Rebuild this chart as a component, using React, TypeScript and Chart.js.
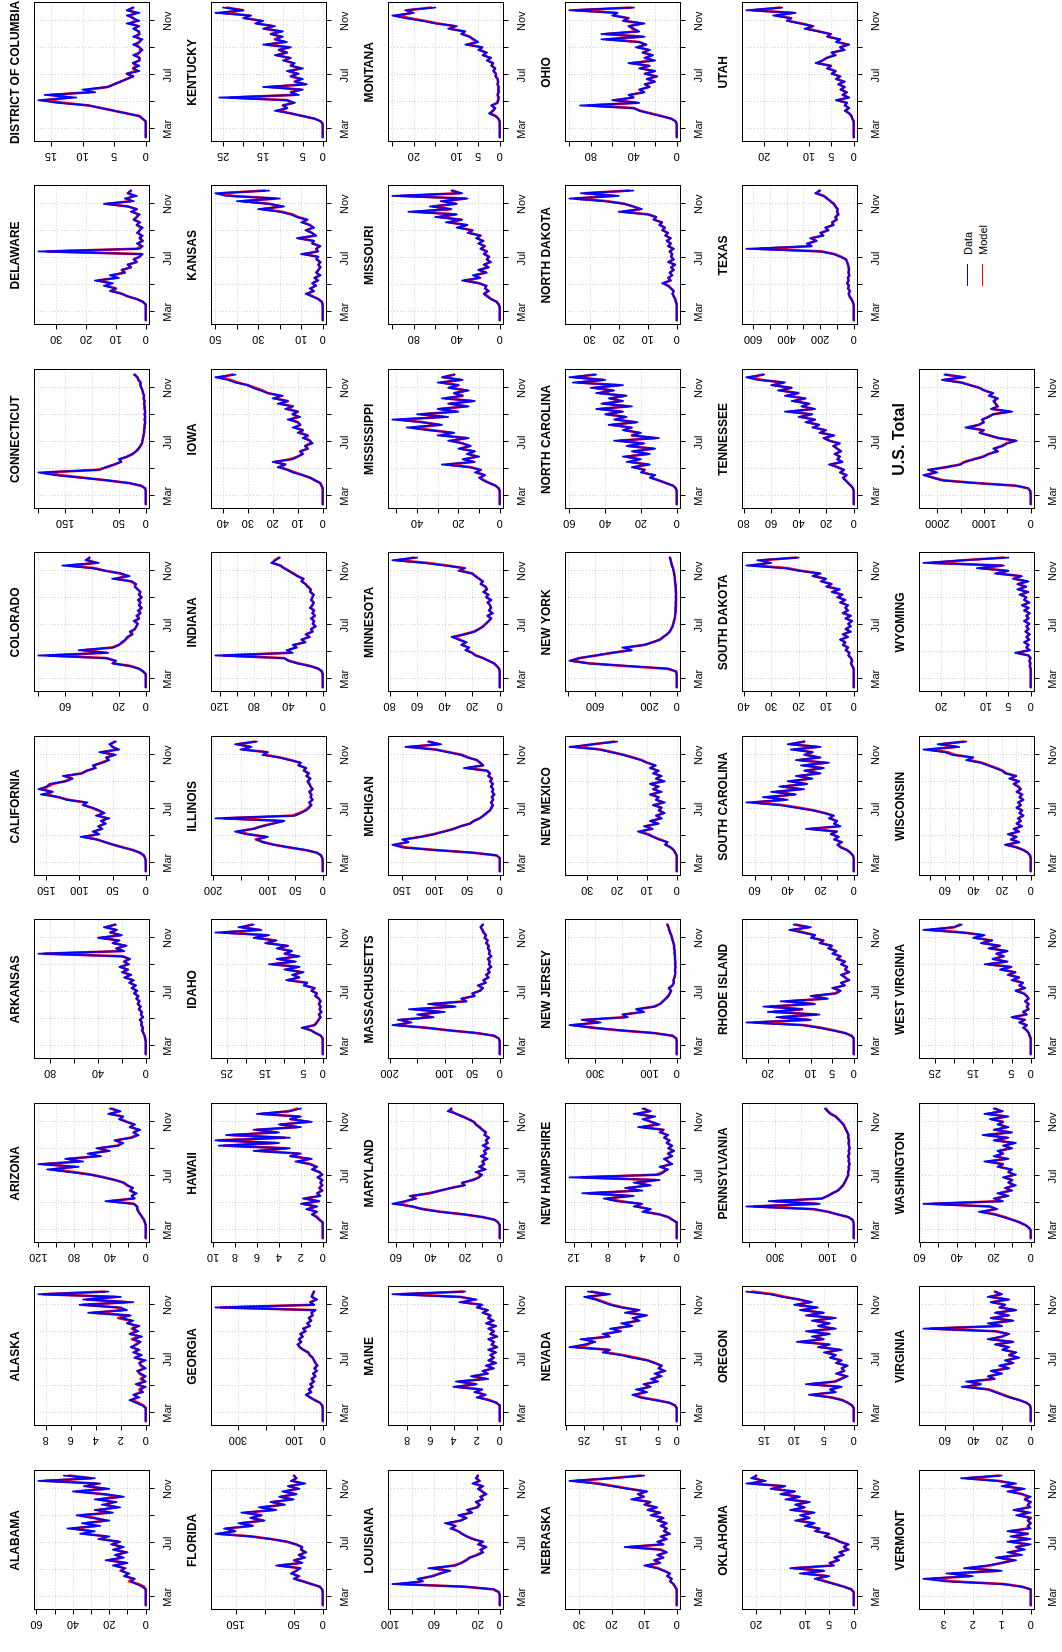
import React, { useEffect, useRef } from "react";
import { Chart, registerables } from "chart.js";

Chart.register(...registerables);

// Sample dates: day of year 2020 (Jan 1 = 0), Feb 11 .. Dec 1
const DAYS = [42,48,54,60,66,72,78,84,90,96,102,108,114,120,126,132,138,144,150,156,162,168,174,180,186,192,198,204,210,216,222,228,234,240,246,252,258,264,270,276,282,288,294,300,306,312,318,324,330,336];
const MONTH_TICKS = [60, 121, 182, 244, 305];
const MONTH_LABELS = ["Mar", "", "Jul", "", "Nov"];
const LEGEND_LABELS = ["Data", "Model"];
const SERIES_COLORS = ["#0000ff", "#ff0000"];

const AL_D = [0,0,0,0,0,0,0,2,5,8,6,12,9,14,11,18,10,22,12,17,10,18,12,19,14,26,20,36,28,43,25,35,20,30,38,18,28,14,24,16,28,12,22,40,20,34,25,59,28,45];
const AL_M = [0,0,0,0,0,0,0,1,4,9,7,11,10,13,12,17,11,20,13,16,11,17,13,18,15,24,22,33,30,40,27,33,22,28,35,20,26,16,22,18,26,14,24,38,22,32,27,55,30,42];
const AK_D = [0,0,0,0,0,0,0.3,0.8,1.3,0.5,1,0.2,0.4,0,0.8,0,0.3,0,0.4,0.7,0,0.3,0.5,0,0.9,0.3,1,0.5,1.2,0.7,0.4,1,0.3,1.3,0.6,1,0.5,1.5,1,2,1.2,4.6,1.5,2,5.3,1,5,2,8.6,3];
const AK_M = [0,0,0,0,0,0,0.2,0.6,1.1,0.7,0.9,0.4,0.5,0.2,0.7,0.1,0.4,0.1,0.5,0.6,0.1,0.4,0.5,0.2,0.8,0.4,0.9,0.6,1.1,0.8,0.5,1.1,0.5,1.2,0.8,1.1,0.7,1.4,1.2,2.2,1.4,4.2,1.8,2.3,5,1.5,4.7,2.4,8.2,3.3];
const AZ_D = [0,0,0,0,0,0,1,2,4,6,8,10,9,14,45,12,16,10,18,14,20,24,35,48,62,85,110,75,120,70,90,50,65,40,55,30,25,35,15,8,14,6,18,12,22,30,25,42,28,40];
const AZ_M = [0,0,0,0,0,0,1,2,4,6,8,9,10,13,40,14,15,12,17,15,21,25,34,46,60,80,104,80,114,75,86,55,62,43,52,32,27,33,17,10,13,8,17,13,21,28,26,40,30,38];
const AR_D = [0,0,0,0,0,0,0.5,1,2,3,2,4,3,5,2,4,3,6,4,7,5,8,6,10,7,12,8,14,10,18,12,20,15,22,14,18,13,20,90,18,25,16,28,22,40,20,30,24,35,25];
const AR_M = [0,0,0,0,0,0,0.5,1,2,3,2.5,3.5,3.5,4.5,2.5,4,3.5,5.5,4.5,6.5,5.5,7.5,6.5,9,8,11,9,13,11,17,13,19,15,21,15,18,14,19,85,19,24,17,27,23,38,21,29,25,33,26];
const CA_D = [0,0,0,0,0,1,3,8,20,35,50,60,75,98,70,80,65,72,60,68,55,75,62,70,80,95,88,120,130,158,140,162,150,145,120,110,125,95,90,75,80,65,55,60,45,70,40,50,55,45];
const CA_M = [0,0,0,0,0,1,3,9,19,34,48,62,73,92,72,78,67,70,62,66,58,72,64,72,82,93,92,116,132,150,142,155,148,140,122,112,120,97,88,77,78,67,57,58,48,66,43,50,53,47];
const CO_D = [0,0,0,0,0,0,2,5,12,25,22,30,80,28,50,24,20,18,15,14,10,12,8,7,6,9,5,7,4,6,3,5,4,6,3,5,4,6,8,7,10,25,12,18,30,40,62,35,45,42];
const CO_M = [0,0,0,0,0,0,2,5,11,24,23,29,72,30,46,25,20,17,15,13,10,11,8,7,6,8,5,6,4,5,3,5,4,5,3,5,4,6,8,8,11,22,14,19,30,38,57,37,43,42];
const CT_D = [0,0,0,0,0,0,1,8,30,70,120,170,200,85,75,60,45,50,35,25,18,14,10,7,6,5,4,3,3,2,2,1,2,1,2,1,2,2,3,2,4,3,5,6,8,10,9,14,15,22];
const CT_M = [0,0,0,0,0,0,1,9,32,72,115,160,185,90,72,58,47,48,34,24,18,13,10,7,6,5,4,3,3,2,2,1,2,1,2,1,2,2,3,2,4,3,5,6,8,10,10,13,16,20];
const DE_D = [0,0,0,0,0,0,0,1,3,6,8,12,10,14,11,17,9,12,7,8,5,6,3,4,2,1,36,2,1,3,1,2,1,3,2,1,3,2,4,3,2,5,3,6,14,4,7,3,6,5];
const DE_M = [0,0,0,0,0,0,0,1,3,6,8,11,10,13,12,16,10,11,7,8,5,6,3,4,2,1.5,33,3,1.5,2.5,1,2,1.5,2.5,2,1.5,3,2,4,3,2.5,4.5,3,6,13,5,6,4,6,5];
const DC_D = [0,0,0,0,0,0,0,0.5,1,3,5,7,9,14,17,11,16,8,10,6,5,4,3,2,3,1,2,1,2,1,1,2,1,0.5,1,2,1,0.5,2,1,1,2,1,3,1,2,3,1,3,2];
const DC_M = [0,0,0,0,0,0,0,0.5,1,3,5,7,9,13,16,12,15,9,9,6,5,4,3,2,3,1.5,2,1.5,2,1,1,1.5,1,0.8,1,1.5,1,0.8,1.5,1,1.2,1.8,1.2,2.5,1.5,2,2.5,1.5,2.8,2];
const FL_D = [0,0,0,0,0,0,1,5,20,35,50,40,55,45,38,80,35,50,30,42,28,38,35,45,60,90,125,185,150,170,120,145,100,125,105,140,80,110,65,90,50,75,45,70,40,60,30,55,45,50];
const FL_M = [0,0,0,0,0,0,1,5,19,33,48,42,53,46,40,75,37,48,32,40,30,37,36,47,62,88,122,178,152,165,122,140,103,122,107,132,84,105,68,86,53,72,47,66,43,58,34,52,46,49];
const GA_D = [0,0,0,0,0,0,2,10,30,45,60,40,50,35,45,30,40,25,35,20,30,18,25,30,35,45,50,70,80,90,75,85,70,80,60,70,45,55,40,50,35,40,25,380,30,45,20,40,35,30];
const GA_M = [0,0,0,0,0,0,2,10,28,44,57,42,48,37,43,32,38,27,33,22,28,20,26,31,36,46,52,68,82,86,77,84,72,78,62,68,47,54,42,48,36,39,28,360,33,43,23,38,36,31];
const HI_D = [0,0,0,0,0,0,0,0.3,0.6,1,0.5,1.5,0.5,2,0.3,1.8,0.2,0.5,0,0.3,0,0.2,0,0.5,0,0.3,1,0.5,1.2,2.5,1,3,2,6.3,3,9.5,4,9.8,3,8.8,4,6.3,2,4,1,3,2,6,3,2];
const HI_M = [0,0,0,0,0,0,0,0.3,0.5,0.9,0.6,1.3,0.6,1.8,0.4,1.6,0.3,0.5,0.1,0.3,0.1,0.2,0.1,0.4,0.1,0.3,0.9,0.6,1.1,2.2,1.2,2.8,2.2,5.8,3.3,9,4.3,9.5,3.5,8.4,4.2,6,2.3,3.8,1.3,2.9,2.2,5.6,3.1,2.3];
const ID_D = [0,0,0,0,0,0,0,0.5,2,3,5.5,2,1.5,1,0.5,1,0.3,0.8,0.5,1,0.5,1,2,1.5,3,2,5,4,9.5,6,8,5,10,6,14,7,12,6,10,8,12,9,15,12,18,14,28,16,22,18];
const ID_M = [0,0,0,0,0,0,0,0.5,1.8,3,5,2.2,1.6,1.1,0.6,1,0.4,0.8,0.6,1,0.6,1,1.8,1.6,2.8,2.3,4.6,4.2,9,6.3,7.6,5.4,9.4,6.5,13,7.5,11.5,6.6,9.8,8.2,11.6,9.5,14.5,12.4,17.5,14.6,26,16.5,21,18.5];
const IL_D = [0,0,0,0,0,1,3,10,30,60,90,110,120,100,140,160,125,110,90,70,196,50,40,30,25,20,25,18,22,20,25,18,22,25,28,22,30,25,35,30,45,40,60,80,110,100,150,130,160,120];
const IL_M = [0,0,0,0,0,1,3,11,32,62,88,108,122,104,135,155,128,112,92,72,180,55,42,32,26,22,24,19,22,21,24,19,22,24,27,23,29,26,34,31,43,41,58,78,106,102,145,132,155,124];
const IN_D = [0,0,0,0,0,0,1,5,15,30,40,45,125,35,42,30,35,20,25,15,20,12,14,8,12,10,14,9,12,10,15,12,10,14,12,10,15,14,18,20,25,22,30,35,40,45,50,60,55,50];
const IN_M = [0,0,0,0,0,0,1,5,14,28,39,45,115,38,40,32,33,21,24,16,19,12,13,9,11,10,13,9,12,10,14,12,11,13,12,11,14,14,17,20,24,23,29,34,39,45,49,58,56,51];
const IA_D = [0,0,0,0,0,0,0,0.5,1,3,5,8,12,14,18,15,20,12,10,8,9,6,7,4,5,8,6,10,8,12,9,10,14,9,12,10,15,12,18,14,20,16,22,25,28,30,35,38,43,35];
const IA_M = [0,0,0,0,0,0,0,0.5,1,3,5,8,11,14,17,15,19,13,10,8,9,6,7,5,5,7,6,9,8,11,9,10,13,10,12,10,14,12,17,14,19,17,22,24,27,30,34,37,41,36];
const KS_D = [0,0,0,0,0,0,0,0.5,2,5,8,4,6,3,5,2,4,1,3,2,1,2,1,3,2,10,2,3,1,5,4,12,3,5,8,4,6,10,7,12,15,20,30,18,25,40,20,45,50,25];
const KS_M = [0,0,0,0,0,0,0,0.5,2,4.5,7,4.5,5.5,3.5,4.5,2.5,3.5,1.5,3,2,1.2,2,1.2,2.8,2.5,8.5,2.5,3,1.5,4.5,4.5,11,3.5,5,7.5,4.5,6,9,7.5,11.5,14,19,28,19,25,37,22,42,47,27];
const KY_D = [0,0,0,0,0,0,0.5,2,5,8,12,9,10,7,9,26,6,8,5,15,4,7,5,8,6,9,5,8,7,10,8,12,9,11,8,15,9,12,10,13,10,15,12,17,15,20,18,27,20,25];
const KY_M = [0,0,0,0,0,0,0.5,2,5,8,11,9,10,7.5,9,23,7,8,5.5,13,4.5,7,5.5,8,6.5,8.5,5.5,8,7.5,9.5,8.5,11.5,9,11,8.5,14,9.5,12,10.5,13,10.5,14.5,12.5,16.5,15.5,19.5,18.5,25,20,24];
const LA_D = [0,0,0,0,0,1,5,30,98,70,75,60,55,45,65,40,35,30,28,20,15,18,12,20,15,25,30,35,38,45,40,50,35,30,38,25,30,20,18,22,15,18,12,16,20,15,25,18,22,20];
const LA_M = [0,0,0,0,0,1,6,33,90,72,72,62,54,47,60,42,35,31,27,21,16,17,13,19,16,24,30,34,38,43,41,47,36,31,36,26,29,21,19,21,16,17,13,16,19,16,23,19,21,20];
const ME_D = [0,0,0,0,0,0,0,0.3,1,2,1.2,2.2,1.5,4,2,3.8,1,2.5,1,1.5,0.5,1.2,0.3,1,0.5,0.8,0.3,1,0.2,0.7,0.5,1,0.2,0.8,0.5,1,0.3,1.2,0.5,1,0.8,1.5,1,2,1.5,3.5,2,3.5,9.3,3];
const ME_M = [0,0,0,0,0,0,0,0.3,0.9,1.8,1.3,2,1.6,3.7,2.1,3.5,1.2,2.3,1.1,1.4,0.6,1.1,0.4,0.9,0.5,0.8,0.4,0.9,0.3,0.7,0.5,0.9,0.3,0.8,0.5,0.9,0.4,1.1,0.6,1,0.8,1.4,1.1,1.9,1.6,3.2,2.2,3.4,8.6,3.2];
const MD_D = [0,0,0,0,0,0,1,3,10,20,35,45,50,62,55,48,52,40,35,28,20,22,15,12,10,14,8,12,9,10,7,11,8,9,6,10,7,8,6,9,8,10,12,14,15,18,22,25,30,28];
const MD_M = [0,0,0,0,0,0,1,3,10,21,34,44,51,58,54,49,50,41,34,28,21,21,16,12,11,13,9,11,9,10,8,10,8,9,7,9,7,8,6.5,8.5,8,10,11.5,13.5,15,18,21,25,28,28];
const MA_D = [0,0,0,0,0,0,2,10,40,90,130,195,160,185,120,150,100,165,80,130,60,70,45,50,35,30,40,25,30,20,25,18,22,15,20,18,22,15,20,18,22,20,25,22,28,25,30,32,35,30];
const MA_M = [0,0,0,0,0,0,2,11,42,92,135,185,165,178,125,145,108,155,84,122,62,68,47,49,36,31,38,26,29,21,24,19,21,16,19,18,21,16,19,18,21,20,24,22,27,25,29,31,34,31];
const MI_D = [0,0,0,0,0,0,5,40,100,150,165,140,150,120,100,85,70,60,45,40,30,25,20,15,12,10,14,10,12,8,12,10,14,10,15,12,18,15,20,55,25,30,35,50,60,80,100,145,90,110];
const MI_M = [0,0,0,0,0,0,5,42,98,145,160,142,146,122,102,86,71,60,46,40,31,25,20,15,13,11,13,10,12,9,11,10,13,11,14,12,17,15,19,50,26,30,35,48,58,78,98,138,94,108];
const MN_D = [0,0,0,0,0,0,0,0.5,2,4,8,12,18,20,25,22,28,24,30,35,25,18,15,12,10,8,6,9,5,8,6,7,9,6,10,8,12,9,10,14,12,15,18,20,30,25,40,55,78,60];
const MN_M = [0,0,0,0,0,0,0,0.5,2,4,8,12,17,20,24,23,27,25,29,33,26,19,15,12,10,8,6.5,8.5,5.5,7.5,6.5,7,8.5,6.5,9.5,8.5,11.5,9.5,10.5,13.5,12.5,15,17.5,20,28,26,38,53,74,62];
const MS_D = [0,0,0,0,0,0,0.5,2,5,8,10,7,12,9,15,28,12,18,10,16,12,20,14,18,25,15,30,22,35,45,28,38,52,25,40,20,30,15,25,12,28,18,22,15,25,20,30,18,28,22];
const MS_M = [0,0,0,0,0,0,0.5,2,5,7.5,9.5,7.5,11,9.5,14,25,13,17,11,15,12.5,19,14.5,18,23,16,28,23,33,42,29,37,48,27,38,21,29,16,24,13,26,18,22,16,24,20,28,19,27,22];
const MO_D = [0,0,0,0,0,0,1,3,8,12,15,10,14,12,20,35,18,25,12,20,10,15,8,12,10,15,12,18,14,20,15,22,18,30,25,40,30,50,35,60,40,85,45,65,40,55,30,100,35,45];
const MO_M = [0,0,0,0,0,0,1,3,8,11,14,11,13,13,19,32,19,23,13,19,11,14,9,12,10,14,12,17,14,19,16,21,18,28,26,38,31,47,36,56,41,78,46,62,41,52,32,92,37,44];
const MT_D = [0,0,0,0,0,0,0,0.3,1,2.5,1.5,1,2,0.5,0.3,0.2,0.5,0.2,0.3,0.2,0.5,0.3,0.5,1,0.8,1.5,1,2,1.5,3,2,4,3,5,4,8,5,6,7,9,8,12,10,15,18,22,25,20,22,15];
const MT_M = [0,0,0,0,0,0,0,0.3,0.9,2.2,1.6,1.1,1.8,0.6,0.4,0.3,0.5,0.3,0.3,0.3,0.5,0.4,0.5,0.9,0.9,1.4,1.1,1.8,1.6,2.8,2.2,3.8,3.1,4.7,4.2,7.4,5.3,6.2,7,8.6,8.3,11.5,10.5,14.5,17.5,21,23.5,20.5,21.5,16];
const NE_D = [0,0,0,0,0,0,0,0.5,1,2,1.5,3,2,4,6,10,5,7,4,6,3,5,16,4,6,3,5,2,4,3,5,3,6,4,8,5,9,6,10,8,14,10,12,9,15,20,25,33,20,10];
const NE_M = [0,0,0,0,0,0,0,0.5,1,2,1.6,2.8,2.2,3.8,5.7,9.2,5.3,6.6,4.3,5.6,3.3,4.8,14.5,4.4,5.6,3.3,4.6,2.4,3.8,3.2,4.6,3.3,5.6,4.3,7.5,5.3,8.6,6.3,9.6,8.3,13,10.2,11.6,9.5,14.5,19,24,31,20.5,11];
const NV_D = [0,0,0,0,0,0,0.5,2,6,10,12,8,11,7,9,5,7,4,6,3,5,4,6,8,12,15,20,18,29,25,22,26,18,20,15,18,12,15,10,12,8,14,10,15,18,20,22,25,18,24];
const NV_M = [0,0,0,0,0,0,0.5,2,5.5,9.5,11,8.5,10,7.5,8.5,5.5,6.5,4.5,5.5,3.5,4.8,4.2,5.8,7.8,11,14.5,19,18.5,27,24,22.5,24.5,18.5,19,15.5,17,12.5,14,10.5,11.5,8.5,13,10.5,14.5,17.5,19.5,21.5,24,19,23];
const NH_D = [0,0,0,0,0,0,0,0.5,1,2,4,3,5,4,7,8.5,5,11,4,6,3,5,2,12.5,2,1.5,1,2,0.5,1,1.5,0.5,1,0.3,1,0.5,1.2,0.8,1.5,1,2,1.5,4.5,2,3,4,2.5,5,3,4];
const NH_M = [0,0,0,0,0,0,0,0.5,1,2,3.7,3.2,4.6,4.2,6.6,8,5.4,10.3,4.5,5.6,3.3,4.6,2.4,11,2.4,1.6,1.2,1.8,0.7,1,1.3,0.6,1,0.4,0.9,0.6,1.1,0.9,1.4,1.1,1.8,1.6,4,2.2,3,3.7,2.8,4.6,3.2,3.8];
const NJ_D = [0,0,0,0,0,0,2,15,80,200,300,395,280,350,180,200,120,150,80,60,50,40,30,25,20,30,15,10,12,8,6,5,7,4,6,5,7,6,8,7,10,9,12,15,18,20,25,28,30,35];
const NJ_M = [0,0,0,0,0,0,2,16,85,210,310,380,290,335,190,195,125,145,84,62,51,41,31,26,21,28,16,11,12,8.5,6.5,5.5,6.5,4.5,6,5.5,6.5,6.5,8,7.5,9.5,9.5,12,15,17.5,20,24,27.5,30,34];
const NM_D = [0,0,0,0,0,0,0,0.5,1,2,4,3,6,8,10,13,8,11,6,9,5,7,4,6,5,8,4,7,6,9,5,8,6,9,4,7,5,8,6,9,7,10,12,15,18,22,26,36,28,20];
const NM_M = [0,0,0,0,0,0,0,0.5,1,2,3.6,3.3,5.6,7.8,9.6,12.3,8.4,10.4,6.4,8.5,5.3,6.7,4.4,6,5.2,7.6,4.5,6.8,6.2,8.6,5.5,7.7,6.3,8.6,4.6,6.8,5.4,7.6,6.3,8.7,7.3,9.8,11.7,14.6,17.8,21.5,25.5,33.5,28,21];
const NY_D = [0,0,0,0,0,0,5,60,350,650,790,720,600,480,330,400,230,180,120,100,70,50,40,30,25,20,15,12,10,8,8,6,7,5,6,5,6,7,8,10,12,14,16,20,22,28,35,40,45,50];
const NY_M = [0,0,0,0,0,0,6,70,370,640,770,715,590,475,340,370,240,175,125,98,72,52,41,31,25,20,15,12,10,8,8,6,7,5,6,5,6,7,8,10,12,14,16,19,23,28,34,40,44,50];
const NC_D = [0,0,0,0,0,0,0.5,2,6,10,15,12,20,18,25,15,28,20,30,15,25,12,28,18,35,10,25,20,30,25,38,22,35,28,40,30,45,25,42,30,38,28,45,35,48,30,58,40,60,45];
const NC_M = [0,0,0,0,0,0,0.5,2,6,10,14,13,19,18,24,16,26,21,28,16,24,13,27,19,32,12,25,21,29,26,36,23,34,29,39,31,43,27,41,31,37,29,43,36,46,32,55,41,57,46];
const ND_D = [0,0,0,0,0,0,0,0.3,0.5,1,1.5,1,2,3,5,2,3,1.5,2.5,1,2,0.5,3,1,2,1.5,2.5,1,3,2,3.5,2,4,3,5,4,6,5,8,7,10,20,12,15,18,25,37,20,33,15];
const ND_M = [0,0,0,0,0,0,0,0.3,0.5,1,1.4,1.1,1.9,2.8,4.6,2.2,2.8,1.6,2.3,1.1,1.9,0.7,2.7,1.2,1.9,1.6,2.3,1.2,2.8,2.1,3.3,2.2,3.8,3.1,4.8,4.1,5.8,5.2,7.7,7.2,9.8,18.5,12.5,15,18,24,35,21.5,31.5,16.5];
const OH_D = [0,0,0,0,0,0,1,5,15,25,35,40,90,35,60,40,45,30,35,25,30,20,28,18,30,20,35,25,45,20,30,22,32,25,38,28,35,70,30,70,35,40,45,30,50,45,60,55,100,40];
const OH_M = [0,0,0,0,0,0,1,5,14,24,34,40,82,37,57,41,43,31,34,26,29,21,27,19,29,21,33,26,42,22,29,23,31,26,36,29,35,65,32,66,36,41,44,32,49,45,58,56,94,43];
const OK_D = [0,0,0,0,0,0,0.5,2,4,6,8,5,11,6,13,4,5,3,4,2,3,1,2,1,3,4,6,5,8,7,10,8,12,9,11,8,13,10,12,9,14,11,15,12,17,14,22,18,21,20];
const OK_M = [0,0,0,0,0,0,0.5,2,3.8,5.7,7.5,5.4,10.2,6.3,12.2,4.5,4.8,3.2,3.8,2.2,2.8,1.3,2,1.3,2.8,3.9,5.7,5.2,7.6,7.1,9.5,8.3,11.4,9.2,10.7,8.4,12.3,10.2,11.7,9.4,13.3,11.3,14.6,12.3,16.5,14.3,20.8,18.5,20.3,20];
const OR_D = [0,0,0,0,0,0,0.3,1,2,4,7.5,3,4,2,8,3,2,1,3,1.5,2,1,3,2,4,3,5,2,6,4,9.5,5,7,4,8,3,6,4,7,3,8,5,9,6,10,7,9,12,14,18];
const OR_M = [0,0,0,0,0,0,0.3,1,1.9,3.7,6.8,3.3,3.8,2.3,7.2,3.2,2.2,1.3,2.7,1.7,2,1.2,2.8,2.2,3.7,3.1,4.6,2.4,5.5,4.2,8.8,5.2,6.6,4.3,7.4,3.4,5.8,4.2,6.6,3.5,7.6,5.2,8.6,6.3,9.6,7.4,9.2,11.5,13.5,17];
const PA_D = [0,0,0,0,0,0,1,5,20,60,100,150,410,130,325,120,100,80,60,50,40,35,30,25,20,22,18,20,15,20,18,22,16,20,15,18,20,17,22,20,25,30,35,40,50,60,70,90,100,110];
const PA_M = [0,0,0,0,0,0,1,5,21,62,98,155,380,140,300,122,98,82,61,51,41,35,30,25,21,22,18,19,16,19,18,21,17,19,16,18,19,18,21,20,24,29,34,39,48,58,68,86,98,106];
const RI_D = [0,0,0,0,0,0,0,0.5,2,5,8,12,25,10,18,8,20,12,21,9,17,6,10,4,3,5,2,3,1,2,3,1,2,1.5,3,2,4,3,5,4,6,5,8,7,10,9,12,15,10,14];
const RI_M = [0,0,0,0,0,0,0,0.5,2,4.6,7.6,11.5,23,10.5,17,8.6,18.5,12,19.5,9.4,15.5,6.5,9.5,4.3,3.2,4.6,2.2,2.8,1.2,2,2.7,1.2,2,1.6,2.8,2.1,3.7,3.1,4.7,4.1,5.7,5.2,7.6,7.1,9.6,9.1,11.6,14,10.5,13.5];
const SC_D = [0,0,0,0,0,0,0.5,2,4,8,10,7,12,9,14,10,29,8,12,10,15,12,18,25,35,45,65,40,55,35,50,30,45,28,40,25,35,20,30,18,32,15,35,20,30,25,38,20,40,30];
const SC_M = [0,0,0,0,0,0,0.5,2,4,7.5,9.5,7.5,11.5,9.5,13.5,10.5,26,9,11.5,10.5,14.5,12.5,17.5,24,33,43,60,42,52,36,47,32,43,29,38,26,33,21,29,19,30,17,33,21,29,25,36,22,38,30];
const SD_D = [0,0,0,0,0,0,0,0,0.5,1,0.5,1,2,1.5,3,2,4,3,5,2,4,1,3,1,2,0.5,3,1,4,2,3,2,5,3,6,4,8,5,10,8,12,10,15,12,20,25,39,30,35,20];
const SD_M = [0,0,0,0,0,0,0,0,0.5,1,0.6,1,1.8,1.6,2.8,2.1,3.7,3.1,4.6,2.3,3.8,1.3,2.8,1.2,1.9,0.7,2.8,1.2,3.7,2.2,3,2.3,4.6,3.2,5.6,4.3,7.6,5.4,9.5,8.2,11.5,10.3,14.5,12.5,19,24,36,31,33,21];
const TN_D = [0,0,0,0,0,0,0.5,2,4,6,8,5,10,7,12,18,8,12,10,14,9,12,15,10,18,22,14,25,20,30,25,35,28,40,30,50,28,38,32,45,35,50,40,55,45,60,50,70,78,65];
const TN_M = [0,0,0,0,0,0,0.5,2,4,5.7,7.6,5.4,9.5,7.3,11.5,16.5,8.6,11.6,10.2,13.3,9.4,12,14.3,10.8,17.5,21,15,23.5,21,28.5,25.5,33.5,28.5,38,31,46,29.5,37,33,43,35.5,48,40.5,53,45.5,58,51,67,74,66];
const TX_D = [0,0,0,0,0,0,1,5,15,25,30,22,35,28,40,30,35,25,32,28,30,35,40,45,80,120,200,640,250,280,220,260,180,200,150,170,120,130,100,110,90,100,95,110,120,140,160,180,230,200];
const TX_M = [0,0,0,0,0,0,1,5,14,24,29,23,33,29,38,31,34,26,31,29,30,34,39,46,75,115,190,560,255,270,225,250,185,195,155,165,122,128,102,108,92,98,96,108,118,138,158,178,220,205];
const UT_D = [0,0,0,0,0,0,0,0.3,0.5,1,2,1,2,1.5,4,1,2.5,1.5,3,2,3.5,2,4,3,5,4,6,5,8.5,7,6,4,5,2,3,1,4,3,6,5,8,11,9,12,15,14,18,13,24,16];
const UT_M = [0,0,0,0,0,0,0,0.3,0.5,1,1.8,1.1,1.9,1.6,3.6,1.2,2.4,1.6,2.8,2.1,3.3,2.2,3.8,3.1,4.7,4.1,5.7,5.2,8,7,6,4.3,4.7,2.3,3,1.3,3.7,3.2,5.7,5.3,7.7,10.3,9.3,11.7,14.5,14,17.3,13.6,22.5,16.5];
const VT_D = [0,0,0,0,0,0,0,0.3,1,2.9,3.7,2,2.9,1,2.3,1.5,1,0.5,1.2,0.3,0.8,0.2,0.5,0,0.8,0,0.7,0.1,0.8,0,0.1,0,0.1,0,0.5,0,0.6,0,0.1,0,0.2,0,0.3,0.8,0.2,1,0.5,1.2,2.4,1];
const VT_M = [0,0,0,0,0,0,0,0.3,0.9,2.7,3.4,2.1,2.7,1.1,2.1,1.4,1,0.6,1.1,0.4,0.7,0.3,0.5,0.1,0.7,0.1,0.6,0.1,0.7,0.1,0.1,0,0.1,0,0.4,0.1,0.5,0.1,0.1,0,0.2,0.1,0.3,0.7,0.3,0.9,0.6,1.1,2.2,1.1];
const VA_D = [0,0,0,0,0,0,0.5,3,8,15,20,25,30,48,35,45,25,30,20,28,15,22,12,18,8,15,10,20,15,25,12,30,20,15,25,75,20,30,12,28,15,25,10,22,18,28,15,30,20,25];
const VA_M = [0,0,0,0,0,0,0.5,3,8,14,19,24,29,44,35,42,26,29,21,27,16,21,13,17,9,15,11,19,16,24,13,28,20,16,24,70,21,28,13,27,16,24,11,21,18,27,16,28,21,25];
const WA_D = [0,0,0,0,1,3,6,10,15,20,28,18,22,58,15,20,12,18,10,14,8,12,10,15,8,12,10,18,15,25,12,20,15,18,10,15,8,20,12,26,10,20,12,18,15,22,12,25,15,20];
const WA_M = [0,0,0,0,1,3,6,10,14,19,26,19,22,53,16,19,13,17,11,13,9,12,10,14,9,12,11,17,15,23,13,19,15,17,11,14,9,19,13,24,11,19,13,17,15,21,13,23,16,19];
const WV_D = [0,0,0,0,0,0,0,0.3,0.5,1,2,1,3,1.5,5,1,2,0.5,1,0.5,1.5,0.5,1,2,4,1.5,3,2,5,3,6,4,8,5,12,6,10,7,9,6,11,8,13,10,15,12,18,28,20,18];
const WV_M = [0,0,0,0,0,0,0,0.3,0.5,1,1.8,1.1,2.8,1.6,4.6,1.2,1.9,0.6,1,0.6,1.4,0.6,1,1.8,3.7,1.6,2.9,2.1,4.6,3.1,5.7,4.1,7.6,5.2,11,6.4,9.6,7.1,8.8,6.3,10.5,8.2,12.5,10.3,14.5,12.4,17.5,26,20,18.5];
const WI_D = [0,0,0,0,0,0,0.5,2,5,10,18,8,14,10,16,8,12,6,10,7,9,5,8,6,10,7,9,5,8,6,10,7,9,12,8,15,10,18,20,25,30,35,45,40,55,60,75,50,65,45];
const WI_M = [0,0,0,0,0,0,0.5,2,5,9.5,16.5,8.5,13.5,10,15,8.5,11.5,6.5,9.5,7,8.5,5.5,7.5,6,9.5,7,8.5,5.5,7.5,6,9.5,7,8.5,11.5,8.5,14,10.5,17,19.5,24,29,34,43,41,53,58,71,52,63,47];
const WY_D = [0,0,0,0,0,0,0,0,0.2,0,0.3,0,0.5,3.5,0.2,1,0.5,1.5,0.3,1,0.2,1.2,0.5,1,0.3,1.5,0.5,1,0.2,1.5,0.5,2,0.3,1.5,1,2.5,0.5,3,1,3,0.5,4,2,8,5,12,6,24,15,5];
const WY_M = [0,0,0,0,0,0,0,0,0.2,0.1,0.3,0.1,0.5,3,0.3,0.9,0.5,1.3,0.4,0.9,0.3,1.1,0.5,0.9,0.4,1.3,0.5,0.9,0.3,1.3,0.5,1.8,0.4,1.4,1,2.2,0.7,2.7,1.1,2.8,0.8,3.6,2.2,7.5,5.2,11,6.5,22,15,6];
const US_D = [0,0,0,0,1,10,50,300,1200,1900,2100,2300,2000,2200,1800,1500,1400,1200,1000,900,700,800,600,500,300,700,900,1100,1000,1400,1100,1000,1050,900,800,400,850,700,750,800,700,900,800,1000,1100,1300,1500,1900,1400,1850];
const US_M = [0,0,0,0,1,12,60,320,1150,1850,2080,2250,2050,2150,1820,1520,1420,1230,1020,900,720,780,620,520,330,680,880,1080,1020,1350,1120,1010,1030,910,810,450,830,710,750,790,720,880,820,990,1100,1290,1480,1850,1450,1820];

interface PanelDef {
  name: string;
  data: number[];
  model: number[];
  ticks: number[];
  labels: number[];
}

const PANELS: PanelDef[] = [
  { name: "ALABAMA", data: AL_D, model: AL_M, ticks: [0,10,20,30,40,50,60], labels: [0,20,40,60] },
  { name: "ALASKA", data: AK_D, model: AK_M, ticks: [0,2,4,6,8], labels: [0,2,4,6,8] },
  { name: "ARIZONA", data: AZ_D, model: AZ_M, ticks: [0,20,40,60,80,100,120], labels: [0,40,80,120] },
  { name: "ARKANSAS", data: AR_D, model: AR_M, ticks: [0,20,40,60,80], labels: [0,40,80] },
  { name: "CALIFORNIA", data: CA_D, model: CA_M, ticks: [0,50,100,150], labels: [0,50,100,150] },
  { name: "COLORADO", data: CO_D, model: CO_M, ticks: [0,20,40,60,80], labels: [0,20,60] },
  { name: "CONNECTICUT", data: CT_D, model: CT_M, ticks: [0,50,100,150,200], labels: [0,50,150] },
  { name: "DELAWARE", data: DE_D, model: DE_M, ticks: [0,10,20,30], labels: [0,10,20,30] },
  { name: "DISTRICT OF COLUMBIA", data: DC_D, model: DC_M, ticks: [0,5,10,15], labels: [0,5,10,15] },
  { name: "FLORIDA", data: FL_D, model: FL_M, ticks: [0,50,100,150], labels: [0,50,150] },
  { name: "GEORGIA", data: GA_D, model: GA_M, ticks: [0,100,200,300], labels: [0,100,300] },
  { name: "HAWAII", data: HI_D, model: HI_M, ticks: [0,2,4,6,8,10], labels: [0,2,4,6,8,10] },
  { name: "IDAHO", data: ID_D, model: ID_M, ticks: [0,5,10,15,20,25], labels: [0,5,15,25] },
  { name: "ILLINOIS", data: IL_D, model: IL_M, ticks: [0,50,100,150,200], labels: [0,50,100,200] },
  { name: "INDIANA", data: IN_D, model: IN_M, ticks: [0,20,40,60,80,100,120], labels: [0,40,80,120] },
  { name: "IOWA", data: IA_D, model: IA_M, ticks: [0,10,20,30,40], labels: [0,10,20,30,40] },
  { name: "KANSAS", data: KS_D, model: KS_M, ticks: [0,10,20,30,40,50], labels: [0,10,30,50] },
  { name: "KENTUCKY", data: KY_D, model: KY_M, ticks: [0,5,10,15,20,25], labels: [0,5,15,25] },
  { name: "LOUISIANA", data: LA_D, model: LA_M, ticks: [0,20,40,60,80,100], labels: [0,20,60,100] },
  { name: "MAINE", data: ME_D, model: ME_M, ticks: [0,2,4,6,8], labels: [0,2,4,6,8] },
  { name: "MARYLAND", data: MD_D, model: MD_M, ticks: [0,10,20,30,40,50,60], labels: [0,20,40,60] },
  { name: "MASSACHUSETTS", data: MA_D, model: MA_M, ticks: [0,50,100,150,200], labels: [0,50,100,200] },
  { name: "MICHIGAN", data: MI_D, model: MI_M, ticks: [0,50,100,150], labels: [0,50,100,150] },
  { name: "MINNESOTA", data: MN_D, model: MN_M, ticks: [0,20,40,60,80], labels: [0,20,40,60,80] },
  { name: "MISSISSIPPI", data: MS_D, model: MS_M, ticks: [0,10,20,30,40,50], labels: [0,20,40] },
  { name: "MISSOURI", data: MO_D, model: MO_M, ticks: [0,20,40,60,80,100], labels: [0,40,80] },
  { name: "MONTANA", data: MT_D, model: MT_M, ticks: [0,5,10,15,20,25], labels: [0,5,10,20] },
  { name: "NEBRASKA", data: NE_D, model: NE_M, ticks: [0,10,20,30], labels: [0,10,20,30] },
  { name: "NEVADA", data: NV_D, model: NV_M, ticks: [0,5,10,15,20,25,30], labels: [0,5,15,25] },
  { name: "NEW HAMPSHIRE", data: NH_D, model: NH_M, ticks: [0,2,4,6,8,10,12], labels: [0,4,8,12] },
  { name: "NEW JERSEY", data: NJ_D, model: NJ_M, ticks: [0,100,200,300,400], labels: [0,100,300] },
  { name: "NEW MEXICO", data: NM_D, model: NM_M, ticks: [0,10,20,30], labels: [0,10,20,30] },
  { name: "NEW YORK", data: NY_D, model: NY_M, ticks: [0,200,400,600,800], labels: [0,200,600] },
  { name: "NORTH CAROLINA", data: NC_D, model: NC_M, ticks: [0,20,40,60], labels: [0,20,40,60] },
  { name: "NORTH DAKOTA", data: ND_D, model: ND_M, ticks: [0,10,20,30], labels: [0,10,20,30] },
  { name: "OHIO", data: OH_D, model: OH_M, ticks: [0,20,40,60,80,100], labels: [0,40,80] },
  { name: "OKLAHOMA", data: OK_D, model: OK_M, ticks: [0,5,10,15,20], labels: [0,5,10,20] },
  { name: "OREGON", data: OR_D, model: OR_M, ticks: [0,5,10,15], labels: [0,5,10,15] },
  { name: "PENNSYLVANIA", data: PA_D, model: PA_M, ticks: [0,100,200,300,400], labels: [0,100,300] },
  { name: "RHODE ISLAND", data: RI_D, model: RI_M, ticks: [0,5,10,15,20,25], labels: [0,5,10,20] },
  { name: "SOUTH CAROLINA", data: SC_D, model: SC_M, ticks: [0,10,20,30,40,50,60], labels: [0,20,40,60] },
  { name: "SOUTH DAKOTA", data: SD_D, model: SD_M, ticks: [0,10,20,30,40], labels: [0,10,20,30,40] },
  { name: "TENNESSEE", data: TN_D, model: TN_M, ticks: [0,20,40,60,80], labels: [0,20,40,60,80] },
  { name: "TEXAS", data: TX_D, model: TX_M, ticks: [0,100,200,300,400,500,600], labels: [0,200,400,600] },
  { name: "UTAH", data: UT_D, model: UT_M, ticks: [0,5,10,15,20], labels: [0,5,10,20] },
  { name: "VERMONT", data: VT_D, model: VT_M, ticks: [0,1,2,3], labels: [0,1,2,3] },
  { name: "VIRGINIA", data: VA_D, model: VA_M, ticks: [0,20,40,60], labels: [0,20,40,60] },
  { name: "WASHINGTON", data: WA_D, model: WA_M, ticks: [0,10,20,30,40,50,60], labels: [0,20,40,60] },
  { name: "WEST VIRGINIA", data: WV_D, model: WV_M, ticks: [0,5,10,15,20,25], labels: [0,5,15,25] },
  { name: "WISCONSIN", data: WI_D, model: WI_M, ticks: [0,10,20,30,40,50,60,70], labels: [0,20,40,60] },
  { name: "WYOMING", data: WY_D, model: WY_M, ticks: [0,5,10,15,20], labels: [0,5,10,20] },
  { name: "U.S. Total", data: US_D, model: US_M, ticks: [0,500,1000,1500,2000], labels: [0,1000,2000] },
];

const FONT = '"Liberation Sans Narrow", "Liberation Sans", Arial, sans-serif';
const PAGE_W = 1652;
const PAGE_H = 1062;
const NCOL = 9;
const NROW = 6;
const CELL_W = PAGE_W / NCOL;
const CELL_H = PAGE_H / NROW;
const CANVAS_W = 184;
const CANVAS_H = 177;
const PAD = { left: 41.6, right: 2.4, top: 34, bottom: 27 };

function makeRPlugin(p: PanelDef, big: boolean) {
  return {
    id: "rstyle",
    beforeDatasetsDraw(chart: any) {
      const { ctx, chartArea: a } = chart;
      const x = chart.scales.x;
      const y = chart.scales.y;
      ctx.save();
      ctx.strokeStyle = "#cfcfcf";
      ctx.lineWidth = 1;
      ctx.setLineDash([1, 2]);
      ctx.beginPath();
      for (const t of MONTH_TICKS) {
        const px = Math.round(x.getPixelForValue(t)) + 0.5;
        ctx.moveTo(px, a.top);
        ctx.lineTo(px, a.bottom);
      }
      for (const t of p.ticks) {
        if (t < y.min || t > y.max) continue;
        const py = Math.round(y.getPixelForValue(t)) + 0.5;
        ctx.moveTo(a.left, py);
        ctx.lineTo(a.right, py);
      }
      ctx.stroke();
      ctx.restore();
    },
    afterDraw(chart: any) {
      const { ctx, chartArea: a } = chart;
      const x = chart.scales.x;
      const y = chart.scales.y;
      ctx.save();
      ctx.setLineDash([]);
      ctx.strokeStyle = "#000";
      ctx.fillStyle = "#000";
      ctx.lineWidth = 1;
      const L = Math.round(a.left) + 0.5;
      const R = Math.round(a.right) - 0.5;
      const T = Math.round(a.top) + 0.5;
      const B = Math.round(a.bottom) - 0.5;
      ctx.strokeRect(L, T, R - L, B - T);
      // time axis ticks
      ctx.beginPath();
      for (const t of MONTH_TICKS) {
        const px = Math.round(x.getPixelForValue(t)) + 0.5;
        ctx.moveTo(px, B);
        ctx.lineTo(px, B + 5);
      }
      // value axis ticks
      for (const t of p.ticks) {
        if (t < y.min || t > y.max) continue;
        const py = Math.round(y.getPixelForValue(t)) + 0.5;
        ctx.moveTo(L - 5, py);
        ctx.lineTo(L, py);
      }
      ctx.stroke();
      ctx.font = `11px ${FONT}`;
      ctx.textAlign = "center";
      ctx.textBaseline = "middle";
      MONTH_TICKS.forEach((t, i) => {
        if (MONTH_LABELS[i]) ctx.fillText(MONTH_LABELS[i], x.getPixelForValue(t), B + 18);
      });
      for (const t of p.labels) {
        const py = y.getPixelForValue(t);
        ctx.save();
        ctx.translate(L - 15, py);
        ctx.rotate(-Math.PI / 2);
        ctx.fillText(String(t), 0, 0);
        ctx.restore();
      }
      ctx.font = `bold ${big ? 16 : 12}px ${FONT}`;
      ctx.fillText(p.name, (a.left + a.right) / 2, big ? 15 : 16);
      ctx.restore();
    },
  };
}

function Panel({ p, index }: { p: PanelDef; index: number }) {
  const ref = useRef<HTMLCanvasElement>(null);
  useEffect(() => {
    const maxV = Math.max(...p.data, ...p.model);
    const first = DAYS[0];
    const last = DAYS[DAYS.length - 1];
    const span = last - first;
    const toPts = (arr: number[]) =>
      arr.slice(0, DAYS.length).map((v, i) => ({ x: DAYS[i], y: v }));
    const chart = new Chart(ref.current as HTMLCanvasElement, {
      type: "line",
      data: {
        datasets: [
          {
            label: LEGEND_LABELS[0],
            data: toPts(p.data),
            borderColor: SERIES_COLORS[0],
            borderWidth: 1.8,
            pointRadius: 0,
            tension: 0,
            fill: false,
            borderJoinStyle: "round",
            borderCapStyle: "round",
          },
          {
            label: LEGEND_LABELS[1],
            data: toPts(p.model),
            borderColor: SERIES_COLORS[1],
            borderWidth: 2.6,
            pointRadius: 0,
            tension: 0,
            fill: false,
            borderJoinStyle: "round",
            borderCapStyle: "round",
          },
        ],
      },
      options: {
        animation: false,
        responsive: false,
        maintainAspectRatio: false,
        devicePixelRatio: 1,
        events: [],
        layout: { padding: PAD },
        plugins: {
          legend: { display: false },
          tooltip: { enabled: false },
          title: { display: false },
        },
        scales: {
          x: { type: "linear", display: false, min: first - 0.04 * span, max: last + 0.04 * span },
          y: { type: "linear", display: false, min: -0.04 * maxV, max: 1.04 * maxV },
        },
      } as any,
      plugins: [makeRPlugin(p, index === PANELS.length - 1) as any],
    });
    return () => chart.destroy();
  }, [p, index]);
  const r = Math.floor(index / NCOL);
  const c = index % NCOL;
  return (
    <canvas
      ref={ref}
      width={CANVAS_W}
      height={CANVAS_H}
      style={{
        position: "absolute",
        left: Math.round(c * CELL_W),
        top: Math.round(r * CELL_H),
        width: CANVAS_W,
        height: CANVAS_H,
      }}
    />
  );
}

export default function App() {
  return (
    <div
      style={{
        position: "absolute",
        left: 0,
        top: 0,
        width: PAGE_H,
        height: PAGE_W,
        overflow: "hidden",
        background: "#fff",
      }}
    >
      <div
        style={{
          position: "absolute",
          left: 0,
          top: 0,
          width: PAGE_W,
          height: PAGE_H,
          transformOrigin: "0 0",
          transform: `translateY(${PAGE_W}px) rotate(-90deg)`,
        }}
      >
        {PANELS.map((p, i) => (
          <Panel key={p.name} p={p} index={i} />
        ))}
        <div
          style={{
            position: "absolute",
            left: 1366,
            top: 960,
            font: `11px ${FONT}`,
            color: "#000",
          }}
        >
          {LEGEND_LABELS.map((lab, i) => (
            <div key={lab} style={{ display: "flex", alignItems: "center", height: 15 }}>
              <span
                style={{
                  display: "inline-block",
                  width: 22,
                  height: 0,
                  borderTop: `1px solid ${SERIES_COLORS[i]}`,
                  marginRight: 9,
                }}
              />
              <span>{lab}</span>
            </div>
          ))}
        </div>
      </div>
    </div>
  );
}
